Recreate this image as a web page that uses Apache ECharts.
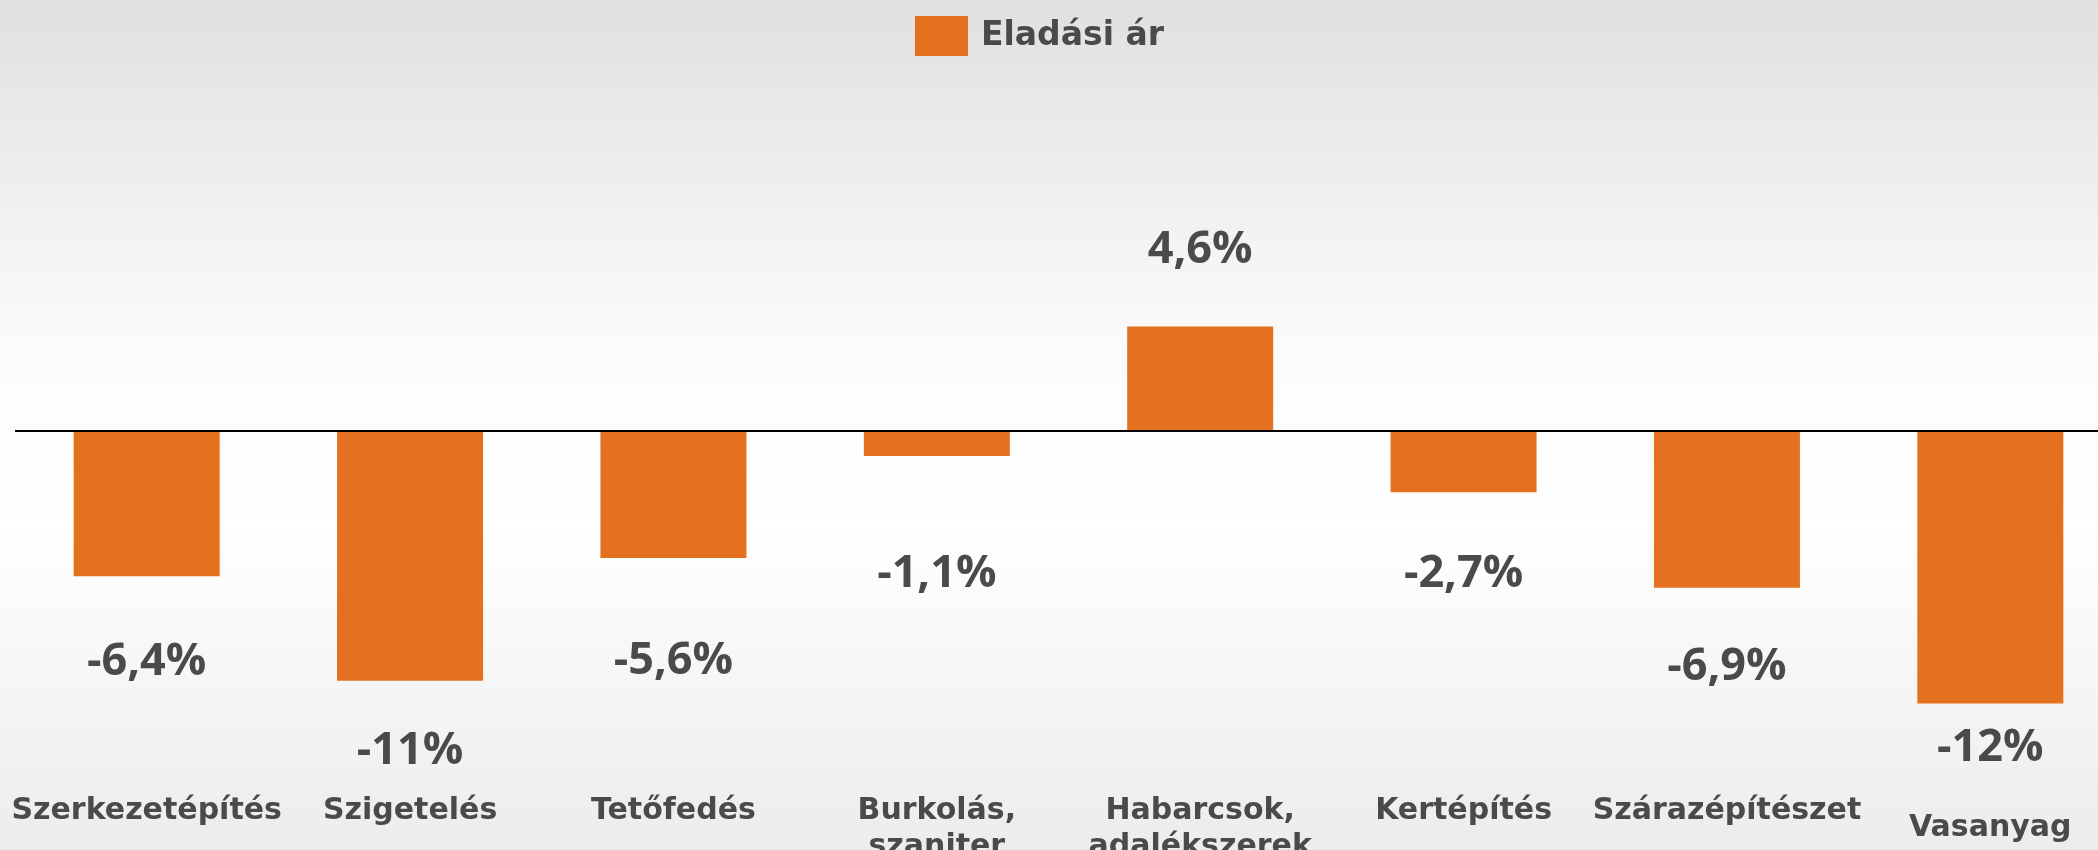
<!DOCTYPE html>
<html>
<head>
<meta charset="utf-8">
<script src="https://cdn.jsdelivr.net/npm/echarts@6/dist/echarts.min.js"></script>
<style>
  html, body { margin: 0; padding: 0; overflow: hidden; }
  #chart { width: 2098px; height: 850px; }
</style>
</head>
<body>
<div id="chart"></div>
<script>
// ---- data ----
const categories = ['Szerkezetépítés', 'Szigetelés', 'Tetőfedés', 'Burkolás,\nszaniter', 'Habarcsok,\nadalékszerek', 'Kertépítés', 'Szárazépítészet', 'Vasanyag'];
const seriesName = 'Eladási ár';
const values = [-6.4, -11, -5.6, -1.1, 4.6, -2.7, -6.9, -12];

// ---- styling (label distances from bar end, px) ----
const labelDistance = [86, 70, 103, 118, 76, 82, 80, 45];
const catLabelExtraTop = [0, 0, 0, 0, 0, 0, 0, 17];

const FONT = 'DejaVu Sans';
const VALUE_FONT = 'Open Sans';
const TEXT = '#4a4a4a';
const ORANGE = '#E3711F';

const chart = echarts.init(document.getElementById('chart'), null, { renderer: 'canvas' });

const catData = categories.map((c, i) => ({
  value: c,
  textStyle: { padding: [catLabelExtraTop[i], 0, 0, 0] }
}));

const barData = values.map((v, i) => ({
  value: v,
  label: {
    position: v < 0 ? 'bottom' : 'top',
    distance: labelDistance[i],
    verticalAlign: 'middle'
  }
}));

chart.setOption({
  backgroundColor: {
    type: 'linear', x: 0, y: 0, x2: 0, y2: 1,
    colorStops: [
      { offset: 0, color: '#e0e0e0' },
      { offset: 0.42, color: '#fcfcfc' },
      { offset: 0.62, color: '#ffffff' },
      { offset: 1, color: '#ececec' }
    ]
  },
  animation: false,
  legend: {
    data: [seriesName],
    left: 910,
    top: 11,
    icon: 'rect',
    itemWidth: 53,
    itemHeight: 40,
    textStyle: { fontFamily: FONT, fontWeight: 'bold', fontSize: 33, color: TEXT, padding: [0, 0, 0, 8] }
  },
  grid: { left: 15, width: 2107, top: 204, height: 567.5, outerBoundsMode: 'none', containLabel: false },
  xAxis: {
    type: 'category',
    data: catData,
    axisLine: { show: false, onZero: false },
    axisTick: { show: false },
    axisLabel: {
      interval: 0,
      margin: 22,
      fontFamily: FONT,
      fontWeight: 'bold',
      fontSize: 30,
      lineHeight: 36,
      color: TEXT
    }
  },
  yAxis: {
    type: 'value',
    min: -15,
    max: 10,
    show: false,
    splitLine: { show: false }
  },
  series: [{
    name: seriesName,
    type: 'bar',
    data: barData,
    barWidth: 146,
    itemStyle: { color: ORANGE },
    label: {
      show: true,
      fontFamily: VALUE_FONT,
      fontWeight: 'bold',
      fontSize: 45,
      color: TEXT,
      formatter: p => String(p.value).replace('.', ',') + '%'
    },
    markLine: {
      silent: true,
      symbol: 'none',
      label: { show: false },
      lineStyle: { color: '#000', width: 2, type: 'solid' },
      data: [{ yAxis: 0 }],
      z: 10
    }
  }]
});
</script>
</body>
</html>
